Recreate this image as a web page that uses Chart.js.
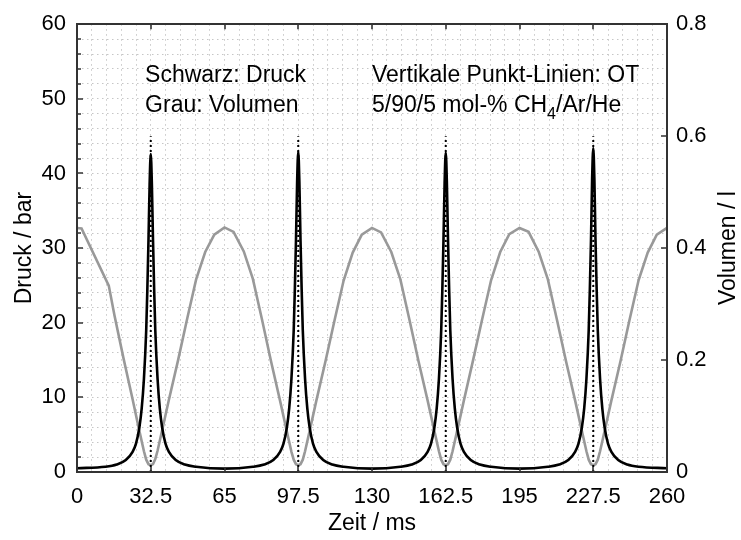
<!DOCTYPE html>
<html>
<head>
<meta charset="utf-8">
<script src="https://cdn.jsdelivr.net/npm/chart.js@4"></script>
<style>
  body { margin: 0; background: #fff; }
  #wrap { width: 741px; height: 540px; }
</style>
</head>
<body>
<div id="wrap"><canvas id="canvas" width="741" height="540"></canvas></div>
<script>
/* Zeit (ms) und Druck (bar) */
const druckZeit = [
  0, 12.5, 17.5, 21.5, 24.5, 26, 27.5, 28.5, 29.5, 30.5, 31, 31.5, 32, 32.5, 33, 33.5, 34, 34.5, 35.5, 36.5, 37.5, 39, 40.5, 43.5, 47.5, 52.5, 65,
  77.5, 82.5, 86.5, 89.5, 91, 92.5, 93.5, 94.5, 95.5, 96, 96.5, 97, 97.5, 98, 98.5, 99, 99.5, 100.5, 101.5, 102.5, 104, 105.5, 108.5, 112.5, 117.5, 130,
  142.5, 147.5, 151.5, 154.5, 156, 157.5, 158.5, 159.5, 160.5, 161, 161.5, 162, 162.5, 163, 163.5, 164, 164.5, 165.5, 166.5, 167.5, 169, 170.5, 173.5, 177.5, 182.5, 195,
  207.5, 212.5, 216.5, 219.5, 221, 222.5, 223.5, 224.5, 225.5, 226, 226.5, 227, 227.5, 228, 228.5, 229, 229.5, 230.5, 231.5, 232.5, 234, 235.5, 238.5, 242.5, 247.5, 260
];
const druckBar = [
  0.5, 0.7, 1.0, 1.6, 2.7, 3.8, 6.0, 8.5, 12.5, 19, 24.5, 31, 38.5, 42.6, 38.5, 31, 24.5, 19, 12.5, 8.5, 6.0, 3.8, 2.7, 1.6, 1.0, 0.7, 0.45,
  0.7, 1.0, 1.6, 2.7, 3.8, 6.0, 8.5, 12.5, 19, 24.5, 31, 38.8, 42.9, 38.8, 31, 24.5, 19, 12.5, 8.5, 6.0, 3.8, 2.7, 1.6, 1.0, 0.7, 0.45,
  0.7, 1.0, 1.6, 2.7, 3.8, 6.0, 8.5, 12.5, 19, 24.5, 31, 38.7, 42.8, 38.7, 31, 24.5, 19, 12.5, 8.5, 6.0, 3.8, 2.7, 1.6, 1.0, 0.7, 0.45,
  0.7, 1.0, 1.6, 2.7, 3.8, 6.0, 8.5, 12.5, 19, 24.5, 31, 39.2, 43.4, 39.2, 31, 24.5, 19, 12.5, 8.5, 6.0, 3.8, 2.7, 1.6, 1.0, 0.7, 0.5
];

/* Zeit (ms) und Volumen (l) */
const volZeit = [
  0, 2, 14, 16.5, 20.5, 24.5, 27.5, 29.5, 30.5, 31.5, 32.5, 33.5, 34.5, 35.5, 37.5, 40.5, 44.5, 48.5, 52.5, 56.5, 60.5, 65,
  69, 73.5, 77.5, 81.5, 85.5, 89.5, 92.5, 94.5, 95.5, 96.5, 97.5, 98.5, 99.5, 100.5, 102.5, 105.5, 109.5, 113.5, 117.5, 121.5, 125.5, 130,
  134, 138.5, 142.5, 146.5, 150.5, 154.5, 157.5, 159.5, 160.5, 161.5, 162.5, 163.5, 164.5, 165.5, 167.5, 170.5, 174.5, 178.5, 182.5, 186.5, 190.5, 195,
  199, 203.5, 207.5, 211.5, 215.5, 219.5, 222.5, 224.5, 225.5, 226.5, 227.5, 228.5, 229.5, 230.5, 232.5, 235.5, 239.5, 243.5, 247.5, 251.5, 255.5, 260
];
const volLiter = [
  0.436, 0.435, 0.333, 0.280, 0.203, 0.130, 0.073, 0.037, 0.022, 0.014, 0.012, 0.014, 0.023, 0.038, 0.074, 0.129, 0.199, 0.273, 0.344, 0.393, 0.424, 0.437,
  0.429, 0.394, 0.345, 0.273, 0.198, 0.127, 0.072, 0.036, 0.022, 0.014, 0.012, 0.014, 0.022, 0.037, 0.073, 0.128, 0.198, 0.271, 0.342, 0.392, 0.424, 0.436,
  0.428, 0.393, 0.344, 0.272, 0.198, 0.128, 0.073, 0.037, 0.022, 0.014, 0.012, 0.014, 0.022, 0.037, 0.073, 0.128, 0.199, 0.272, 0.343, 0.393, 0.425, 0.436,
  0.429, 0.393, 0.344, 0.272, 0.198, 0.128, 0.073, 0.037, 0.022, 0.014, 0.012, 0.014, 0.022, 0.037, 0.073, 0.128, 0.198, 0.272, 0.343, 0.392, 0.424, 0.436
];

/* OT-Zeitpunkte, Punkt-Linien bis 45 bar */
const otZeit = [32.5, 97.5, 162.5, 227.5];
const otOben = 45;

const FONT = "'Liberation Sans', Arial, Helvetica, sans-serif";

const toXY = (xs, ys) => xs.map((x, i) => ({x: x, y: ys[i]}));

// erster Datensatz liegt oben: OT-Linien, dann Druck, dann Volumen
const datasets = [];
otZeit.forEach(t => {
  datasets.push({
    data: [{x: t, y: 0}, {x: t, y: otOben}],
    yAxisID: 'y',
    borderColor: '#000',
    borderWidth: 2,
    borderDash: [2, 3],
    pointRadius: 0
  });
});
datasets.push({
  data: toXY(druckZeit, druckBar),
  yAxisID: 'y',
  borderColor: '#000',
  borderWidth: 2.6,
  pointRadius: 0,
  cubicInterpolationMode: 'monotone'
});
datasets.push({
  data: toXY(volZeit, volLiter),
  yAxisID: 'y1',
  borderColor: '#999',
  borderWidth: 2.6,
  pointRadius: 0,
  tension: 0
});

const isMult = (v, s) => Math.abs(v / s - Math.round(v / s)) < 1e-6;

const rahmen = {
  id: 'rahmen',
  beforeDraw(chart) {
    const c = chart.ctx;
    c.save();
    c.fillStyle = '#fff';
    c.fillRect(0, 0, chart.width, chart.height);
    c.restore();
  },
  afterDraw(chart) {
    const c = chart.ctx;
    const a = chart.chartArea;
    const sx = chart.scales.x, sy = chart.scales.y, sy1 = chart.scales.y1;
    c.save();
    c.strokeStyle = '#333';
    c.lineWidth = 1.6;
    c.beginPath();
    // ticks nach innen
    sx.ticks.forEach(t => {
      if (!isMult(t.value, 32.5)) return;
      const px = Math.round(sx.getPixelForValue(t.value));
      c.moveTo(px, a.bottom); c.lineTo(px, a.bottom - 5);
      c.moveTo(px, a.top); c.lineTo(px, a.top + 5);
    });
    sy.ticks.forEach(t => {
      const py = Math.round(sy.getPixelForValue(t.value));
      const len = isMult(t.value, 10) ? 6 : 4;
      c.moveTo(a.left, py); c.lineTo(a.left + len, py);
    });
    sy1.ticks.forEach(t => {
      const py = Math.round(sy1.getPixelForValue(t.value));
      c.moveTo(a.right, py); c.lineTo(a.right - 6, py);
    });
    c.stroke();
    c.lineWidth = 2;
    c.strokeRect(Math.round(a.left), Math.round(a.top), Math.round(a.right - a.left), Math.round(a.bottom - a.top));

    // Texte im Diagramm
    c.fillStyle = '#000';
    c.textBaseline = 'alphabetic';
    c.textAlign = 'left';
    c.font = '23px ' + FONT;
    const x1 = sx.getPixelForValue(30), x2 = sx.getPixelForValue(130);
    c.fillText('Schwarz: Druck', x1, 82);
    c.fillText('Grau: Volumen', x1, 112);
    c.fillText('Vertikale Punkt-Linien: OT', x2, 82);
    let s = '5/90/5 mol-% CH';
    c.fillText(s, x2, 112);
    let w = c.measureText(s).width;
    c.font = '16px ' + FONT;
    c.fillText('4', x2 + w, 119);
    const w4 = c.measureText('4').width;
    c.font = '23px ' + FONT;
    c.fillText('/Ar/He', x2 + w + w4, 112);

    // rechte Achsenbeschriftung, von unten nach oben
    c.font = '23px ' + FONT;
    c.textAlign = 'center';
    c.textBaseline = 'middle';
    c.translate(729, (a.top + a.bottom) / 2);
    c.rotate(-Math.PI / 2);
    c.fillText('Volumen / l', 0, 0);
    c.restore();
  }
};

const tickFont = {family: FONT, size: 22};
const titleFont = {family: FONT, size: 23};

new Chart(document.getElementById('canvas'), {
  type: 'line',
  data: {datasets: datasets},
  options: {
    responsive: false,
    animation: false,
    devicePixelRatio: 1,
    layout: {padding: {top: 19, left: 0, right: 0, bottom: 0}},
    plugins: {legend: {display: false}, tooltip: {enabled: false}},
    scales: {
      x: {
        type: 'linear',
        min: 0, max: 260,
        afterFit(s) { s.height = 68; },
        grid: {color: '#c6c6c6', lineWidth: 1, drawTicks: false},
        border: {display: false, dash: [1.5, 3.5]},
        ticks: {
          stepSize: 6.5, autoSkip: false, maxRotation: 0, padding: 12,
          color: '#000', font: tickFont,
          callback: v => isMult(v, 32.5) ? String(v) : ''
        },
        title: {display: true, text: 'Zeit / ms', color: '#000', font: titleFont, padding: {top: 0, bottom: 3}}
      },
      y: {
        position: 'left',
        min: 0, max: 60,
        afterFit(s) { s.width = 77; },
        grid: {color: '#c6c6c6', lineWidth: 1, drawTicks: false},
        border: {display: false, dash: [1.5, 3.5]},
        ticks: {
          stepSize: 2, autoSkip: false, padding: 11,
          color: '#000', font: tickFont,
          callback: v => isMult(v, 10) ? String(v) : ''
        },
        title: {display: true, text: 'Druck / bar', color: '#000', font: titleFont, padding: {top: 11, bottom: 0}}
      },
      y1: {
        position: 'right',
        min: 0, max: 0.8,
        afterFit(s) { s.width = 74; },
        grid: {drawOnChartArea: false, drawTicks: false},
        border: {display: false},
        ticks: {stepSize: 0.2, autoSkip: false, padding: 9, color: '#000', font: tickFont},
        title: {display: false}
      }
    }
  },
  plugins: [rahmen]
});
</script>
</body>
</html>
